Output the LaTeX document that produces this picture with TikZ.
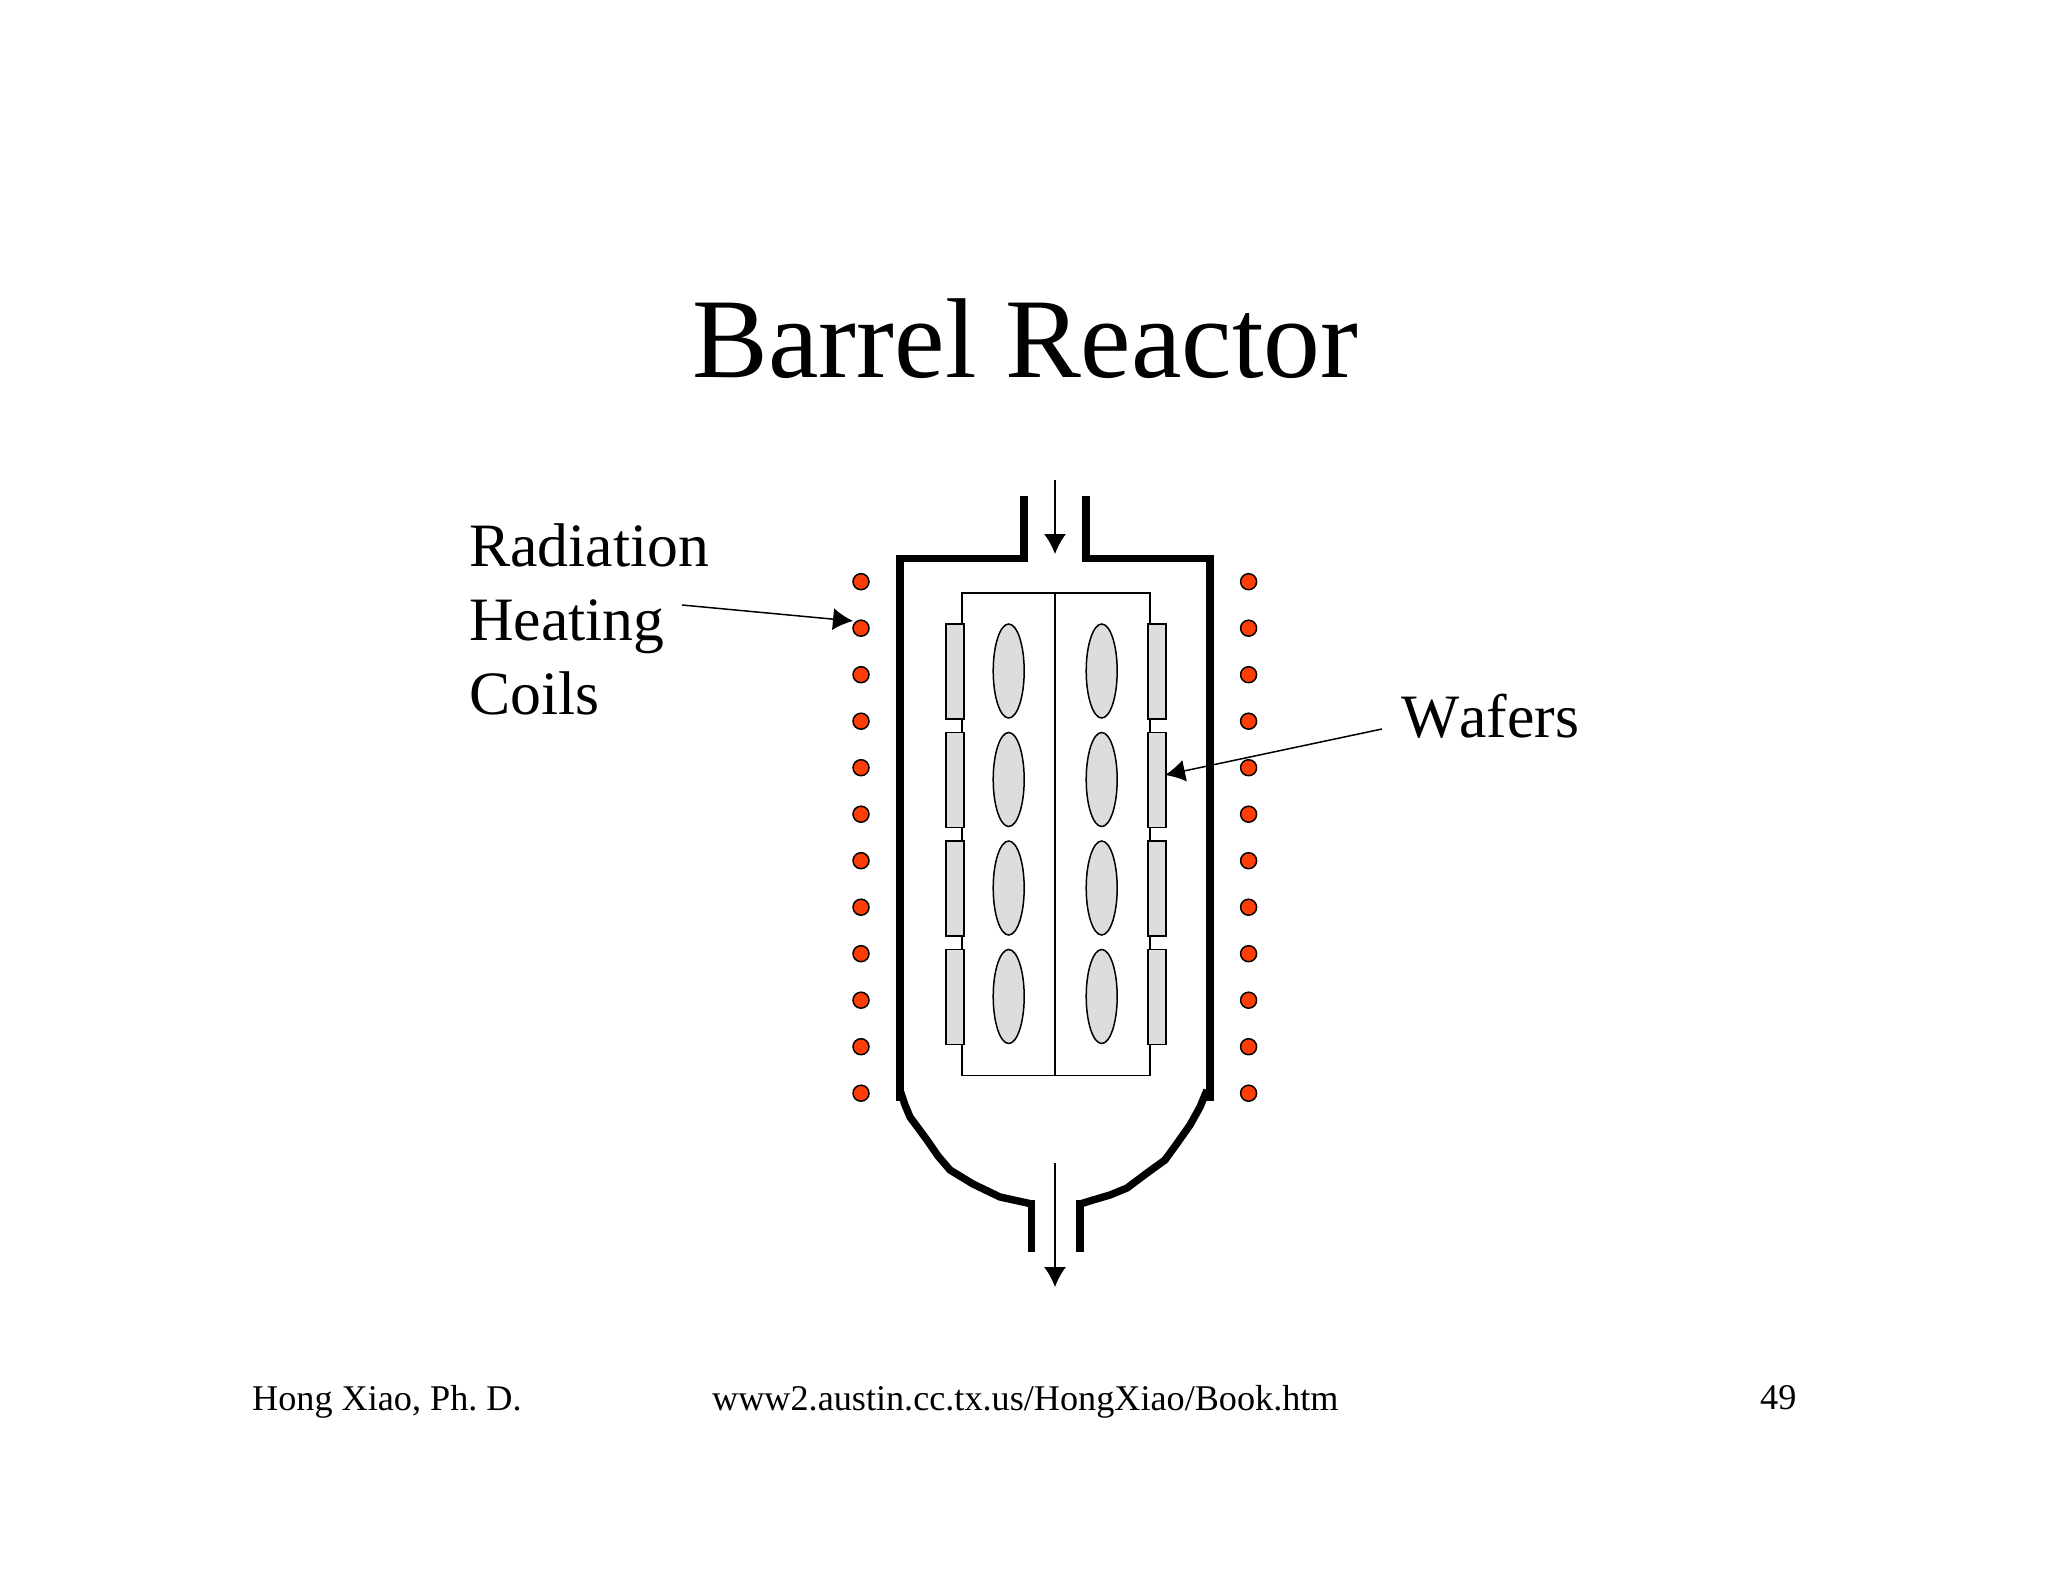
\documentclass[tikz,border=0pt]{standalone}
\usepackage{fontspec}
\setmainfont{Liberation Serif}
\usetikzlibrary{arrows.meta}
\definecolor{coil}{HTML}{FF3D06}
\definecolor{waf}{HTML}{DDDDDD}
\frenchspacing
\tikzset{
  wall/.style={line width=7.4pt,line cap=butt,line join=miter},
  bowl/.style={line width=7.4pt,line cap=butt,line join=round},
  thin line/.style={line width=1.5pt,draw=black},
  wafer/.style={draw=black,line width=1.5pt,fill=waf},
  coildot/.style={circle,draw=black,line width=1.5pt,fill=coil,minimum size=16pt,inner sep=0pt},
  pointer/.style={line width=1.5pt,-{Latex[length=20pt,width=22pt]}},
  lab/.style={anchor=base west,inner sep=0pt,font=\fontsize{61.7}{61.7}\selectfont\addfontfeature{Kerning=Off}},
  foot/.style={anchor=base west,inner sep=0pt,font=\fontsize{36.2}{36.2}\selectfont},
}
\begin{document}
\begin{tikzpicture}[x=1pt,y=-1pt]
\useasboundingbox (0,0) rectangle (2048,1582);
\node[anchor=base,inner sep=0pt,font=\fontsize{113.6}{113.6}\selectfont] (title) at (1025.5,377) {Barrel Reactor};
% Chamber
\draw[wall] (900,1100.7) -- (900,558.5) -- (1024,558.5) -- (1024,496);
\draw[wall] (1086,496) -- (1086,558.5) -- (1210,558.5) -- (1210,1100.7);
\draw[bowl] (900,1090) -- (905,1105) -- (910,1117) -- (927,1140) -- (938,1156) -- (950,1170) -- (973,1184) -- (1000,1197) -- (1032,1204);
\draw[bowl] (1207,1090) -- (1200,1107) -- (1190,1125) -- (1178,1142) -- (1165,1160) -- (1147,1173) -- (1127,1188) -- (1110,1195) -- (1093,1200) -- (1080,1204);
\draw[wall] (1031.7,1200) -- (1031.7,1252);
\draw[wall] (1080,1200) -- (1080,1252);
% Barrel
\draw[thin line] (962,593) rectangle (1150,1075.7);
\draw[thin line] (1055,593) -- (1055,1075.7);
\foreach \i/\y in {1/624,2/732.5,3/841,4/949.5}{
  \node[wafer,rectangle,minimum width=18pt,minimum height=95pt,inner sep=0pt] (wl\i) at (955,\y+47.5) {};
  \node[wafer,rectangle,minimum width=18pt,minimum height=95pt,inner sep=0pt] (wr\i) at (1157,\y+47.5) {};
  \draw[wafer] (1008.7,\y+47) ellipse [x radius=15.5,y radius=47];
  \draw[wafer] (1101.7,\y+47) ellipse [x radius=15.5,y radius=47];
}
% Coils
\foreach \i in {0,...,11}{
  \node[coildot] (cl\i) at (861,581.7+46.5*\i) {};
  \node[coildot] (cr\i) at (1248.6,581.7+46.5*\i) {};
}
% Gas arrows
\coordinate (inS) at (1055,480);
\coordinate (inE) at (1055,554);
\coordinate (outS) at (1055,1163);
\coordinate (outE) at (1055,1287);
\draw[pointer] (inS) -- (inE);
\draw[pointer] (outS) -- (outE);
% Labels
\node[lab] (rad) at (469,566) {Radiation};
\node[lab] (hea) at (469,640) {Heating};
\node[lab] (coi) at (469,714) {Coils};
\node[lab] (waf) at (1401,737) {Wafers};
\coordinate (radS) at (682,605);
\coordinate (radE) at (853,621);
\coordinate (wafS) at (1382,729);
\coordinate (wafE) at (1165,775);
\draw[pointer] (radS) -- (radE);
\draw[pointer] (wafS) -- (wafE);
% Footer
\node[foot] (f1) at (252,1410) {Hong Xiao, Ph. D.};
\node[foot] (f2) at (712,1410) {www2.austin.cc.tx.us/HongXiao/Book.htm};
\node[foot] (f3) at (1760,1409) {49};
\end{tikzpicture}
\end{document}
